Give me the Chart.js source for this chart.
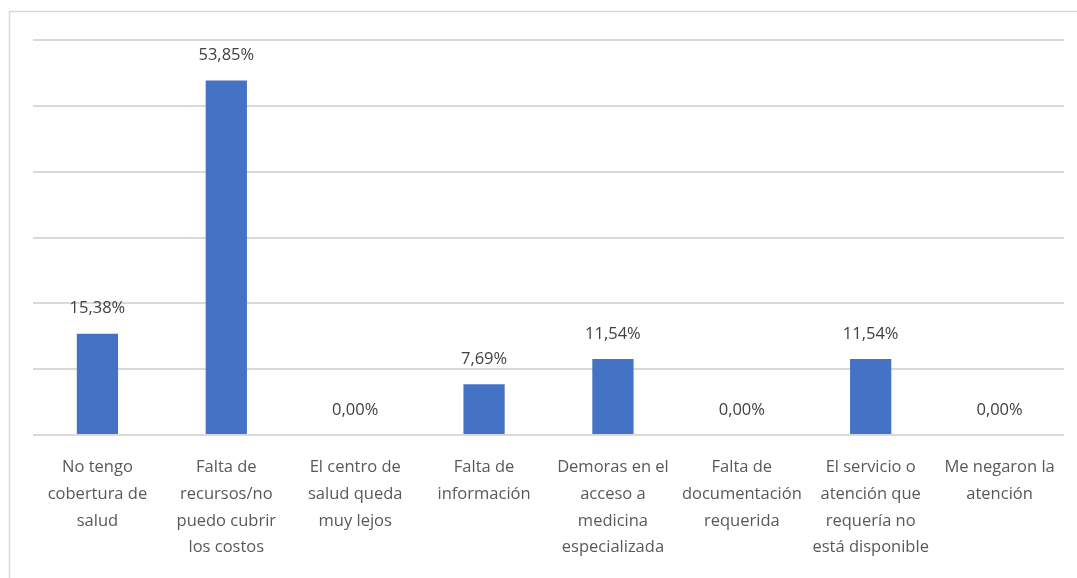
<!DOCTYPE html>
<html>
<head>
<meta charset="utf-8">
<script src="https://cdn.jsdelivr.net/npm/chart.js@4/dist/chart.umd.min.js"></script>
<style>
  html, body { margin: 0; padding: 0; background: #fff; }
  #wrap { width: 1077px; height: 578px; position: relative; }
</style>
</head>
<body>
<div id="wrap"><canvas id="motivosChart"></canvas></div>
<script>
const categories = [
  ['No tengo', 'cobertura de', 'salud'],
  ['Falta de', 'recursos/no', 'puedo cubrir', 'los costos'],
  ['El centro de', 'salud queda', 'muy lejos'],
  ['Falta de', 'información'],
  ['Demoras en el', 'acceso a', 'medicina', 'especializada'],
  ['Falta de', 'documentación', 'requerida'],
  ['El servicio o', 'atención que', 'requería no', 'está disponible'],
  ['Me negaron la', 'atención']
];
const percentages = [15.38, 53.85, 0, 7.69, 11.54, 0, 11.54, 0];
const yTicks = [0, 10, 20, 30, 40, 50, 60];

const fontFamily = "'Open Sans', sans-serif";

// value labels above each bar, e.g. "53,85%"
const valueLabels = {
  id: 'valueLabels',
  afterDatasetsDraw(chart) {
    const ctx = chart.ctx;
    const meta = chart.getDatasetMeta(0);
    ctx.save();
    ctx.font = '16.5px ' + fontFamily;
    ctx.fillStyle = '#404040';
    ctx.textAlign = 'center';
    ctx.textBaseline = 'middle';
    meta.data.forEach((bar, i) => {
      const txt = percentages[i].toFixed(2).replace('.', ',') + '%';
      ctx.fillText(txt, bar.x, bar.y - 25);
    });
    ctx.restore();
  }
};

// thin frame along the top and left edge
const frame = {
  id: 'frame',
  beforeDraw(chart) {
    const ctx = chart.ctx;
    ctx.save();
    ctx.strokeStyle = '#d9d9d9';
    ctx.lineWidth = 1.5;
    ctx.strokeRect(9.5, 11.5, 1200, 700);
    ctx.restore();
  }
};

new Chart(document.getElementById('motivosChart'), {
  type: 'bar',
  data: {
    labels: categories,
    datasets: [{
      data: percentages,
      backgroundColor: '#4472C4',
      borderWidth: 0,
      categoryPercentage: 1,
      barPercentage: 0.32
    }]
  },
  options: {
    responsive: true,
    maintainAspectRatio: false,
    animation: false,
    layout: { padding: { left: 33, right: 13, top: 40, bottom: 0 } },
    plugins: { legend: { display: false }, tooltip: { enabled: false } },
    scales: {
      x: {
        grid: { display: false, drawTicks: false },
        border: { display: false },
        ticks: {
          color: '#595959',
          font: { family: fontFamily, size: 16.5, lineHeight: 1.62 },
          maxRotation: 0,
          autoSkip: false,
          padding: 19
        },
        afterFit(axis) { axis.height = 143; }
      },
      y: {
        min: 0,
        max: 60,
        afterBuildTicks(axis) { axis.ticks = yTicks.map(v => ({ value: v })); },
        grid: { color: '#d9d9d9', lineWidth: 2, drawTicks: false },
        border: { display: false },
        ticks: { display: false },
        afterFit(axis) { axis.width = 0; }
      }
    }
  },
  plugins: [valueLabels, frame]
});
</script>
</body>
</html>
